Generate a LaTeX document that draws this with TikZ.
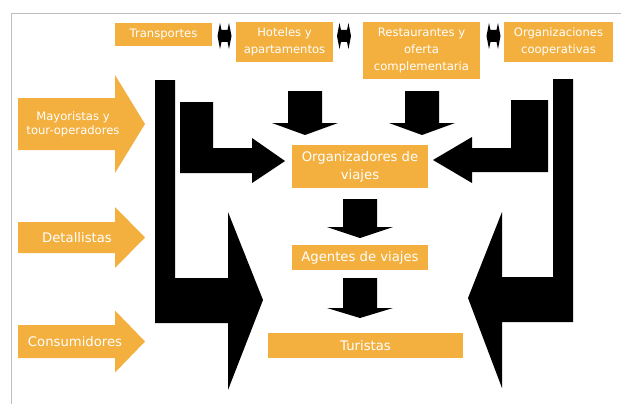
\documentclass[tikz,border=0pt]{standalone}
\usepackage{fontspec}
\setmainfont{DejaVu Sans}
\usepackage{xcolor}
\definecolor{naranja}{RGB}{243,176,62}
\definecolor{marco}{RGB}{190,190,190}

\begin{document}
\begin{tikzpicture}[x=1pt,y=-1pt,
    caja/.style={fill=naranja,text=white,align=center,inner sep=0pt},
    chica/.style={font=\fontsize{11.6}{17}\selectfont},
    grande/.style={font=\fontsize{13.2}{18}\selectfont}]
      \useasboundingbox (0,0) rectangle (621,404);
      \draw[marco] (11,404)--(11,13)--(621,13);
      % cajas de arriba
      \node[caja,chica,minimum width=97,minimum height=23] (trans) at (163.5,34.5) {Transportes};
      \node[caja,chica,minimum width=97,minimum height=40] (hotel) at (284.5,42) {Hoteles y\\apartamentos};
      \node[caja,chica,minimum width=117,minimum height=57] (rest) at (421.5,50.5) {Restaurantes y\\oferta\\complementaria};
      \node[caja,chica,minimum width=109,minimum height=40] (coop) at (558.5,42) {Organizaciones\\cooperativas};
      \foreach \x in {224.5,344,493.5}
        \fill (\x-7,36)--(\x-4.5,23)--(\x-3,30)--(\x+3,30)--(\x+4.5,23)--(\x+7,36)
              --(\x+4.5,49)--(\x+3,42)--(\x-3,42)--(\x-4.5,49)--cycle;
      % cajas del centro
      \node[caja,grande,minimum width=136,minimum height=43] (org) at (360,166.5) {Organizadores de\\viajes};
      \node[caja,grande,minimum width=136,minimum height=25] (agen) at (360,257.5) {Agentes de viajes};
      \node[caja,grande,minimum width=195,minimum height=25] (tur) at (365.5,345.5) {Turistas};
      \foreach \cx/\ya/\yb/\yc in {305/91/123/135,422/91/123/135,360/199/227/238,360/278/308/318}
        \fill (\cx-17,\ya)--(\cx+17,\ya)--(\cx+17,\yb)--(\cx+33,\yb)--(\cx,\yc)
              --(\cx-33,\yb)--(\cx-17,\yb)--cycle;
      % flechas en L
      \fill (155,80)--(175,80)--(175,278)--(228,278)--(228,212)--(263,300)
            --(228,390)--(228,323)--(155,323)--cycle;
      \fill (180,102)--(213,102)--(213,148)--(252,148)--(252,138)--(285,161)
            --(252,183)--(252,173)--(180,173)--cycle;
      \fill (548,100)--(511,100)--(511,148)--(472,148)--(472,137)--(433,160)
            --(472,183)--(472,172)--(548,172)--cycle;
      \fill (573,79)--(553,79)--(553,277)--(502,277)--(502,212)--(468,298)
            --(502,388)--(502,322)--(573,322)--cycle;
      % flechas naranjas
      \foreach \yc/\bh/\hh in {124/26/49,237.5/15.5/30.5,341.5/16.5/31}
        \fill[naranja] (18,\yc-\bh)--(115,\yc-\bh)--(115,\yc-\hh)--(145,\yc)
              --(115,\yc+\hh)--(115,\yc+\bh)--(18,\yc+\bh)--cycle;
      \node[text=white,align=center,font=\fontsize{11.6}{14}\selectfont] (may) at (73,124) {Mayoristas y\\tour-operadores};
      \node[text=white,grande] (det) at (77,237.5) {Detallistas};
      \node[text=white,grande] (cons) at (75,341.5) {Consumidores};
\end{tikzpicture}
\end{document}
